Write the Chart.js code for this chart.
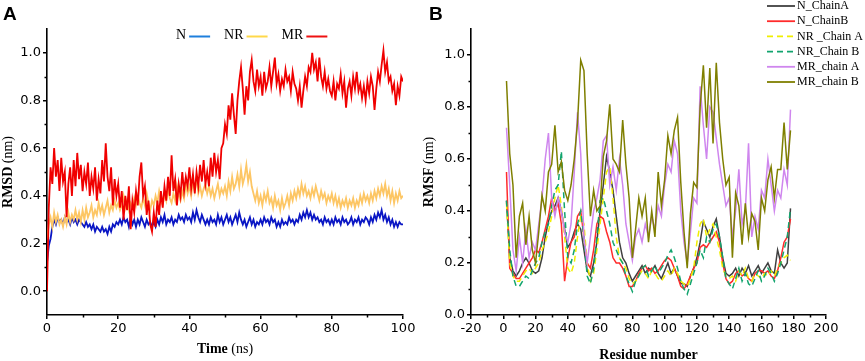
<!DOCTYPE html>
<html><head><meta charset="utf-8">
<script src="https://cdn.jsdelivr.net/npm/chart.js@4/dist/chart.umd.min.js"></script>
<style>
html,body{margin:0;padding:0;background:#fff;}
#wrap{position:relative;width:865px;height:361px;overflow:hidden;background:#fff;}
#chartA{position:absolute;left:0;top:0;}
#chartB{position:absolute;left:420px;top:0;}
.lbl{position:absolute;font:bold 19px "Liberation Sans",Arial,sans-serif;line-height:19px;color:#000;}
</style></head><body>
<div id="wrap">
<canvas id="chartA" width="420" height="361"></canvas>
<canvas id="chartB" width="445" height="361"></canvas>
<div class="lbl" style="left:3px;top:4px">A</div>
<div class="lbl" style="left:429px;top:4px">B</div>
</div>
<script>
// ---------- Panel A data (RMSD vs time) ----------
const timeNs = [0,0.5,1,1.5,2,2.5,3,3.5,4,4.5,5,5.5,6,6.5,7,7.5,8,8.5,9,9.5,
10,10.5,11,11.5,12,12.5,13,13.5,14,14.5,15,15.5,16,16.5,17,17.5,18,18.5,19,19.5,
20,20.5,21,21.5,22,22.5,23,23.5,24,24.5,25,25.5,26,26.5,27,27.5,28,28.5,29,29.5,
30,30.5,31,31.5,32,32.5,33,33.5,34,34.5,35,35.5,36,36.5,37,37.5,38,38.5,39,39.5,
40,40.5,41,41.5,42,42.5,43,43.5,44,44.5,45,45.5,46,46.5,47,47.5,48,48.5,49,49.5,
50,50.5,51,51.5,52,52.5,53,53.5,54,54.5,55,55.5,56,56.5,57,57.5,58,58.5,59,59.5,
60,60.5,61,61.5,62,62.5,63,63.5,64,64.5,65,65.5,66,66.5,67,67.5,68,68.5,69,69.5,
70,70.5,71,71.5,72,72.5,73,73.5,74,74.5,75,75.5,76,76.5,77,77.5,78,78.5,79,79.5,
80,80.5,81,81.5,82,82.5,83,83.5,84,84.5,85,85.5,86,86.5,87,87.5,88,88.5,89,89.5,
90,90.5,91,91.5,92,92.5,93,93.5,94,94.5,95,95.5,96,96.5,97,97.5,98,98.5,99,99.5,100];

const rmsdN = [0.12,0.19,0.22,0.27,0.30,0.28,0.31,0.29,0.30,0.28,
0.31,0.29,0.30,0.28,0.31,0.29,0.30,0.28,0.30,0.29,
0.28,0.27,0.29,0.27,0.28,0.26,0.28,0.25,0.27,0.26,
0.25,0.27,0.25,0.26,0.24,0.27,0.25,0.28,0.27,0.29,
0.28,0.30,0.28,0.31,0.29,0.30,0.27,0.31,0.28,0.30,
0.27,0.30,0.28,0.31,0.29,0.27,0.30,0.28,0.29,0.27,
0.29,0.27,0.30,0.28,0.31,0.29,0.32,0.28,0.30,0.29,
0.31,0.28,0.30,0.29,0.32,0.30,0.31,0.29,0.32,0.30,
0.31,0.29,0.33,0.30,0.34,0.31,0.29,0.32,0.30,0.28,
0.30,0.28,0.31,0.29,0.30,0.28,0.32,0.29,0.31,0.28,
0.30,0.32,0.29,0.31,0.28,0.30,0.32,0.29,0.33,0.30,
0.28,0.30,0.27,0.29,0.31,0.28,0.30,0.27,0.29,0.28,
0.30,0.28,0.31,0.29,0.30,0.28,0.31,0.29,0.30,0.27,
0.29,0.27,0.30,0.28,0.29,0.28,0.31,0.29,0.30,0.28,
0.30,0.29,0.32,0.30,0.33,0.31,0.34,0.31,0.33,0.30,
0.32,0.30,0.31,0.29,0.30,0.28,0.31,0.29,0.30,0.28,
0.30,0.28,0.31,0.29,0.30,0.28,0.31,0.29,0.30,0.28,
0.29,0.31,0.28,0.30,0.29,0.31,0.28,0.30,0.29,0.31,
0.30,0.28,0.31,0.29,0.32,0.30,0.33,0.31,0.34,0.30,
0.32,0.29,0.31,0.28,0.30,0.27,0.29,0.27,0.29,0.28,
0.28];

const rmsdNR = [0.22,0.28,0.31,0.27,0.33,0.29,0.32,0.28,0.30,0.27,
0.31,0.28,0.33,0.29,0.32,0.30,0.34,0.30,0.33,0.29,
0.34,0.30,0.35,0.31,0.33,0.36,0.31,0.34,0.32,0.37,
0.33,0.36,0.32,0.35,0.38,0.33,0.36,0.34,0.38,0.35,
0.37,0.34,0.36,0.40,0.35,0.38,0.34,0.37,0.35,0.39,
0.36,0.40,0.37,0.35,0.39,0.36,0.41,0.37,0.34,0.38,
0.36,0.40,0.37,0.42,0.38,0.36,0.41,0.38,0.43,0.39,
0.37,0.41,0.38,0.44,0.40,0.38,0.42,0.39,0.45,0.41,
0.44,0.40,0.46,0.42,0.48,0.41,0.44,0.40,0.43,0.45,
0.41,0.44,0.40,0.43,0.39,0.42,0.45,0.40,0.43,0.41,
0.44,0.40,0.46,0.42,0.48,0.43,0.45,0.49,0.44,0.51,
0.45,0.48,0.53,0.46,0.50,0.44,0.41,0.38,0.42,0.37,
0.40,0.36,0.41,0.38,0.42,0.37,0.39,0.35,0.40,0.36,
0.38,0.34,0.39,0.35,0.37,0.40,0.36,0.41,0.38,0.42,
0.39,0.43,0.40,0.45,0.41,0.44,0.40,0.42,0.39,0.43,
0.40,0.44,0.41,0.38,0.42,0.39,0.41,0.37,0.40,0.38,
0.41,0.37,0.40,0.36,0.39,0.35,0.38,0.36,0.39,0.35,
0.38,0.36,0.39,0.35,0.38,0.36,0.40,0.37,0.41,0.38,
0.40,0.37,0.41,0.38,0.42,0.39,0.43,0.40,0.44,0.41,
0.45,0.40,0.43,0.38,0.42,0.37,0.41,0.38,0.42,0.39,
0.40];

const rmsdMR = [0.00,0.35,0.52,0.45,0.60,0.48,0.55,0.42,0.56,0.46,
0.50,0.31,0.45,0.52,0.40,0.55,0.44,0.58,0.47,0.53,
0.42,0.50,0.45,0.54,0.40,0.48,0.43,0.52,0.38,0.47,
0.41,0.55,0.46,0.62,0.48,0.42,0.52,0.36,0.47,0.40,
0.45,0.35,0.42,0.30,0.40,0.34,0.44,0.26,0.38,0.33,
0.42,0.36,0.48,0.54,0.40,0.44,0.32,0.38,0.28,0.25,
0.33,0.27,0.38,0.32,0.42,0.35,0.44,0.38,0.48,0.40,
0.57,0.42,0.47,0.36,0.45,0.40,0.50,0.42,0.48,0.44,
0.52,0.43,0.49,0.41,0.50,0.44,0.53,0.46,0.55,0.45,
0.50,0.44,0.56,0.48,0.58,0.50,0.55,0.47,0.60,0.62,
0.70,0.66,0.78,0.72,0.83,0.74,0.66,0.80,0.88,0.94,
0.85,0.74,0.86,0.80,0.92,0.97,0.88,0.84,0.93,0.86,
0.90,0.82,0.92,0.85,0.88,0.94,0.86,0.92,0.98,0.87,
0.91,0.84,0.89,0.86,0.93,0.88,0.90,0.84,0.92,0.87,
0.85,0.80,0.86,0.77,0.84,0.90,0.86,0.94,0.92,1.00,
0.93,0.96,0.88,0.98,0.90,0.86,0.92,0.85,0.89,0.84,
0.82,0.88,0.80,0.87,0.85,0.91,0.83,0.88,0.77,0.85,
0.88,0.82,0.90,0.85,0.92,0.84,0.87,0.81,0.86,0.80,
0.88,0.83,0.90,0.86,0.76,0.85,0.92,0.88,0.95,1.01,
0.92,0.96,0.88,0.90,0.84,0.87,0.78,0.86,0.82,0.90,
0.88];

const timeTicks = [0,20,40,60,80,100];
const timeMinor = [10,30,50,70,90];
const rmsdTicks = [0.0,0.2,0.4,0.6,0.8,1.0];
const rmsdMinor = [0.1,0.3,0.5,0.7,0.9];
const namesA = ['N','NR','MR'];

// ---------- Panel B data (RMSF vs residue) ----------
const residues = [2,4,6,8,10,12,14,16,18,20,
22,24,26,28,30,32,34,36,38,40,
42,44,46,48,50,52,54,56,58,60,
62,64,66,68,70,72,74,76,78,80,
82,84,86,88,90,92,94,96,98,100,
102,104,106,108,110,112,114,116,118,120,
122,124,126,128,130,132,134,136,138,140,
142,144,146,148,150,152,154,156,158,160,
162,164,166,168,170,172,174,176,178];

const nChainA = [0.44,0.22,0.17,0.15,0.17,0.20,0.22,0.20,0.17,0.16,
0.17,0.22,0.30,0.36,0.40,0.42,0.45,0.40,0.33,0.26,
0.28,0.32,0.35,0.33,0.25,0.17,0.15,0.20,0.28,0.40,
0.50,0.61,0.55,0.48,0.38,0.28,0.22,0.20,0.16,0.13,
0.15,0.17,0.19,0.16,0.18,0.17,0.19,0.16,0.14,0.17,
0.20,0.16,0.18,0.15,0.12,0.12,0.11,0.15,0.18,0.22,
0.28,0.36,0.33,0.30,0.34,0.37,0.30,0.22,0.16,0.15,
0.16,0.18,0.15,0.18,0.16,0.19,0.15,0.17,0.19,0.16,
0.18,0.20,0.17,0.16,0.25,0.20,0.18,0.20,0.41];

const nChainB = [0.55,0.18,0.16,0.14,0.14,0.16,0.18,0.20,0.22,0.25,
0.24,0.28,0.33,0.38,0.45,0.40,0.43,0.35,0.13,0.22,
0.28,0.30,0.38,0.40,0.30,0.20,0.18,0.25,0.35,0.38,
0.37,0.32,0.28,0.22,0.20,0.20,0.18,0.15,0.11,0.11,
0.13,0.16,0.18,0.19,0.17,0.18,0.16,0.17,0.19,0.21,
0.22,0.21,0.18,0.15,0.11,0.10,0.12,0.15,0.18,0.20,
0.26,0.27,0.26,0.28,0.30,0.32,0.28,0.20,0.14,0.12,
0.13,0.16,0.17,0.15,0.16,0.14,0.13,0.16,0.17,0.17,
0.16,0.17,0.15,0.14,0.17,0.22,0.28,0.30,0.37];

const nrChainA = [0.43,0.20,0.15,0.13,0.13,0.15,0.17,0.18,0.16,0.18,
0.20,0.25,0.28,0.32,0.38,0.45,0.50,0.42,0.30,0.18,
0.16,0.20,0.30,0.38,0.35,0.20,0.13,0.16,0.25,0.35,
0.45,0.55,0.57,0.45,0.30,0.22,0.20,0.18,0.14,0.12,
0.13,0.15,0.17,0.16,0.14,0.17,0.16,0.14,0.13,0.15,
0.17,0.15,0.18,0.16,0.13,0.12,0.11,0.14,0.18,0.28,
0.35,0.37,0.30,0.33,0.35,0.30,0.25,0.18,0.15,0.14,
0.15,0.13,0.17,0.15,0.18,0.14,0.13,0.16,0.15,0.14,
0.16,0.15,0.17,0.15,0.18,0.20,0.22,0.23,0.21];

const nrChainB = [0.44,0.25,0.15,0.11,0.11,0.13,0.15,0.14,0.17,0.20,
0.22,0.28,0.32,0.35,0.42,0.48,0.50,0.63,0.40,0.22,
0.20,0.25,0.35,0.40,0.30,0.15,0.12,0.18,0.30,0.44,
0.45,0.40,0.35,0.28,0.25,0.22,0.20,0.15,0.12,0.09,
0.13,0.15,0.18,0.19,0.15,0.17,0.19,0.16,0.18,0.20,
0.23,0.25,0.22,0.18,0.13,0.10,0.08,0.12,0.16,0.20,
0.25,0.22,0.30,0.28,0.33,0.35,0.30,0.22,0.14,0.12,
0.10,0.14,0.18,0.13,0.16,0.12,0.11,0.14,0.17,0.13,
0.15,0.18,0.16,0.13,0.16,0.20,0.25,0.30,0.41];

const mrChainA = [0.72,0.50,0.25,0.17,0.30,0.20,0.33,0.22,0.28,0.25,
0.35,0.45,0.60,0.70,0.45,0.38,0.45,0.40,0.32,0.28,
0.35,0.55,0.78,0.62,0.30,0.20,0.30,0.40,0.45,0.52,
0.67,0.69,0.50,0.57,0.48,0.60,0.50,0.35,0.28,0.21,
0.30,0.33,0.28,0.35,0.30,0.38,0.33,0.42,0.38,0.50,
0.58,0.55,0.67,0.62,0.40,0.28,0.20,0.32,0.45,0.43,
0.88,0.73,0.60,0.80,0.78,0.68,0.58,0.50,0.42,0.45,
0.30,0.40,0.56,0.35,0.40,0.66,0.30,0.38,0.33,0.48,
0.45,0.60,0.50,0.40,0.48,0.45,0.56,0.50,0.79];

const mrChainB = [0.90,0.62,0.50,0.22,0.38,0.43,0.27,0.38,0.25,0.20,
0.32,0.46,0.40,0.55,0.58,0.73,0.55,0.59,0.48,0.44,
0.50,0.60,0.74,0.98,0.94,0.62,0.38,0.48,0.40,0.42,
0.61,0.67,0.81,0.60,0.58,0.55,0.75,0.58,0.45,0.22,
0.33,0.45,0.38,0.45,0.28,0.40,0.30,0.55,0.42,0.52,
0.69,0.62,0.71,0.76,0.51,0.32,0.18,0.39,0.51,0.49,
0.80,0.96,0.72,0.95,0.66,0.97,0.74,0.60,0.50,0.53,
0.22,0.47,0.42,0.27,0.43,0.30,0.39,0.36,0.25,0.45,
0.40,0.52,0.57,0.45,0.56,0.56,0.74,0.56,0.71];

const residueTicks = [-20,0,20,40,60,80,100,120,140,160,180,200];
const residueMinor = [-10,10,30,50,70,90,110,130,150,170,190];
const rmsfTicks = [0.0,0.2,0.4,0.6,0.8,1.0];
const rmsfMinor = [0.1,0.3,0.5,0.7,0.9];
const namesB = ['N_ChainA','N_ChainB','NR _Chain A','NR_Chain B','MR_chain A','MR_chain B'];

// ---------- helpers ----------
const TICK_FONT = {family:'"DejaVu Sans", sans-serif', size:13};
const SERIF = '"Liberation Serif", "Times New Roman", serif';
const pts = (xs, ys) => xs.map((x, i) => ({x: x, y: ys[i]}));

function drawMixed(ctx, parts, cx, cy, rot) {
  ctx.save();
  ctx.translate(cx, cy);
  if (rot) ctx.rotate(-Math.PI / 2);
  let w = 0;
  parts.forEach(p => { ctx.font = p.f; w += ctx.measureText(p.t).width; });
  let x = -w / 2;
  ctx.textBaseline = 'middle';
  ctx.textAlign = 'left';
  ctx.fillStyle = '#000';
  parts.forEach(p => { ctx.font = p.f; ctx.fillText(p.t, x, 0); x += ctx.measureText(p.t).width; });
  ctx.restore();
}

const axisDecor = {
  id: 'axisDecor',
  afterDraw(chart, args, o) {
    const ctx = chart.ctx, xs = chart.scales.x, ys = chart.scales.y;
    ctx.save();
    ctx.strokeStyle = '#000';
    ctx.lineWidth = 1.5;
    o.xMinor.forEach(v => {
      const px = Math.round(xs.getPixelForValue(v)) + 0.5;
      ctx.beginPath(); ctx.moveTo(px, xs.top); ctx.lineTo(px, xs.top + 2.5); ctx.stroke();
    });
    o.yMinor.forEach(v => {
      const py = Math.round(ys.getPixelForValue(v)) + 0.5;
      ctx.beginPath(); ctx.moveTo(ys.right, py); ctx.lineTo(ys.right - 2.5, py); ctx.stroke();
    });
    ctx.restore();
    const ca = chart.chartArea;
    drawMixed(ctx, o.xTitle, (ca.left + ca.right) / 2, o.xTitleY, false);
    drawMixed(ctx, o.yTitle, o.yTitleX, (ca.top + ca.bottom) / 2, true);
  }
};

const legendA = {
  id: 'legendA',
  afterDraw(chart, args, o) {
    const ctx = chart.ctx;
    ctx.save();
    ctx.font = '14px ' + SERIF;
    ctx.textBaseline = 'middle';
    ctx.fillStyle = '#000';
    let x = o.x;
    o.items.forEach(it => {
      ctx.fillText(it.text, x, o.y);
      x += ctx.measureText(it.text).width + 3;
      ctx.strokeStyle = it.color; ctx.lineWidth = 2;
      ctx.beginPath(); ctx.moveTo(x, o.y + 1.5); ctx.lineTo(x + 21, o.y + 1.5); ctx.stroke();
      x += 21 + 14;
    });
    ctx.restore();
  }
};

const legendB = {
  id: 'legendB',
  afterDraw(chart, args, o) {
    const ctx = chart.ctx;
    ctx.save();
    ctx.font = '12px ' + SERIF;
    ctx.textBaseline = 'middle';
    chart.data.datasets.forEach((ds, i) => {
      const y = o.y0 + i * o.dy;
      ctx.strokeStyle = ds.borderColor;
      ctx.lineWidth = 1.8;
      ctx.setLineDash(ds.borderDash || []);
      ctx.beginPath(); ctx.moveTo(o.x, y); ctx.lineTo(o.x + 28, y); ctx.stroke();
      ctx.setLineDash([]);
      ctx.fillStyle = '#000';
      ctx.fillText(ds.label, o.x + 30, y);
    });
    ctx.restore();
  }
};

function axis(min, max, ticks, fmt, isY, fitSize) {
  return {
    type: 'linear', min: min, max: max,
    position: isY ? 'left' : 'bottom',
    afterBuildTicks: s => { s.ticks = ticks.map(v => ({value: v})); },
    afterFit: s => { if (isY) s.width = fitSize; else s.height = fitSize; },
    grid: {display: true, drawOnChartArea: false, drawTicks: true, tickLength: 4, color: '#000', lineWidth: 1.5},
    border: {display: true, color: '#000', width: 1.6},
    ticks: {font: TICK_FONT, color: '#000', padding: 2, maxRotation: 0, autoSkip: false, callback: fmt},
    title: {display: false}
  };
}

// ---------- Chart A ----------
new Chart(document.getElementById('chartA'), {
  type: 'line',
  data: {
    datasets: [
      {label: namesA[2], data: pts(timeNs, rmsdMR), borderColor: '#f00000', order: 0},
      {label: namesA[1], data: pts(timeNs, rmsdNR), borderColor: '#fdc664', order: 1},
      {label: namesA[0], data: pts(timeNs, rmsdN), borderColor: '#0a16c4', order: 2}
    ].map(d => Object.assign(d, {borderWidth: 1.8, pointRadius: 0, tension: 0, fill: false}))
  },
  options: {
    responsive: false, animation: false, events: [],
    layout: {padding: {left: 0, top: 29, right: 17, bottom: 0}},
    plugins: {
      legend: {display: false}, tooltip: {enabled: false},
      axisDecor: {
        xMinor: timeMinor, yMinor: rmsdMinor,
        xTitle: [{t: 'Time ', f: 'bold 14px ' + SERIF}, {t: '(ns)', f: '14px ' + SERIF}], xTitleY: 349,
        yTitle: [{t: 'RMSD ', f: 'bold 14px ' + SERIF}, {t: '(nm)', f: '14px ' + SERIF}], yTitleX: 8
      },
      legendA: {
        x: 176, y: 35,
        items: [{text: namesA[0], color: '#1e7fdc'}, {text: namesA[1], color: '#ffd84a'}, {text: namesA[2], color: '#ee1111'}]
      }
    },
    scales: {
      x: axis(0, 100, timeTicks, v => String(v), false, 46),
      y: axis(-0.1, 1.1, rmsdTicks, v => v.toFixed(1), true, 47)
    }
  },
  plugins: [axisDecor, legendA]
});

// ---------- Chart B ----------
new Chart(document.getElementById('chartB'), {
  type: 'line',
  data: {
    datasets: [
      {label: namesB[0], data: pts(residues, nChainA), borderColor: '#404040', order: 5},
      {label: namesB[1], data: pts(residues, nChainB), borderColor: '#ff2b2b', order: 4},
      {label: namesB[2], data: pts(residues, nrChainA), borderColor: '#f0ee00', borderDash: [6, 4], order: 3},
      {label: namesB[3], data: pts(residues, nrChainB), borderColor: '#12a46e', borderDash: [6, 4], order: 2},
      {label: namesB[4], data: pts(residues, mrChainA), borderColor: '#cf86ee', order: 1},
      {label: namesB[5], data: pts(residues, mrChainB), borderColor: '#7f7f00', order: 0}
    ].map(d => Object.assign(d, {borderWidth: 1.5, pointRadius: 0, tension: 0, fill: false}))
  },
  options: {
    responsive: false, animation: false, events: [],
    layout: {padding: {left: 0, top: 29, right: 39, bottom: 0}},
    plugins: {
      legend: {display: false}, tooltip: {enabled: false},
      axisDecor: {
        xMinor: residueMinor, yMinor: rmsfMinor,
        xTitle: [{t: 'Residue number', f: 'bold 14px ' + SERIF}], xTitleY: 355,
        yTitle: [{t: 'RMSF ', f: 'bold 14px ' + SERIF}, {t: '(nm)', f: '14px ' + SERIF}], yTitleX: 9
      },
      legendB: {x: 347, y0: 6, dy: 15.2}
    },
    scales: {
      x: axis(-20, 200, residueTicks, v => String(v), false, 46),
      y: axis(0, 1.1, rmsfTicks, v => v.toFixed(1), true, 51)
    }
  },
  plugins: [axisDecor, legendB]
});
</script>
</body></html>
